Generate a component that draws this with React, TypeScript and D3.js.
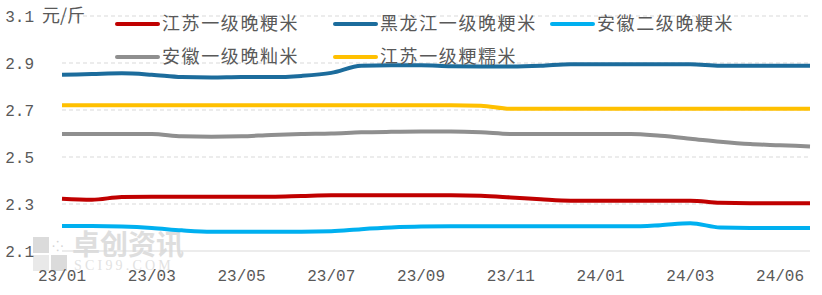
import React from "react";
import * as d3 from "d3";

const categories = [
  "23/01/06", "23/01/20", "23/02/10", "23/03/03", "23/03/24", "23/04/14",
  "23/05/05", "23/05/26", "23/06/16", "23/07/07", "23/07/28", "23/08/18",
  "23/09/08", "23/09/29", "23/10/20", "23/11/10", "23/12/01", "23/12/22",
  "24/01/12", "24/02/02", "24/02/23", "24/03/15", "24/04/12", "24/05/17",
  "24/06/07", "24/06/28",
];

const jiangsuLate = [2.322, 2.318, 2.33, 2.331, 2.331, 2.331, 2.331, 2.331, 2.334, 2.337, 2.337, 2.337, 2.337, 2.337, 2.335, 2.328, 2.32, 2.314, 2.314, 2.314, 2.314, 2.314, 2.305, 2.303, 2.303, 2.303];
const heilongjiang = [2.85, 2.853, 2.856, 2.85, 2.84, 2.838, 2.84, 2.84, 2.845, 2.858, 2.888, 2.89, 2.89, 2.886, 2.885, 2.885, 2.888, 2.895, 2.895, 2.895, 2.895, 2.895, 2.888, 2.888, 2.888, 2.888];
const anhuiSecond = [2.206, 2.206, 2.204, 2.198, 2.188, 2.182, 2.182, 2.182, 2.182, 2.184, 2.193, 2.2, 2.204, 2.205, 2.205, 2.205, 2.205, 2.205, 2.205, 2.205, 2.21, 2.218, 2.2, 2.198, 2.198, 2.198];
const anhuiIndica = [2.598, 2.598, 2.598, 2.598, 2.588, 2.586, 2.588, 2.594, 2.598, 2.6, 2.605, 2.607, 2.608, 2.608, 2.605, 2.598, 2.598, 2.598, 2.598, 2.598, 2.59, 2.578, 2.565, 2.555, 2.55, 2.545];
const jiangsuGlutinous = [2.72, 2.72, 2.72, 2.72, 2.72, 2.72, 2.72, 2.72, 2.72, 2.72, 2.72, 2.72, 2.72, 2.72, 2.718, 2.705, 2.705, 2.705, 2.705, 2.705, 2.705, 2.705, 2.705, 2.705, 2.705, 2.705];

const seriesNames = ["江苏一级晚粳米", "黑龙江一级晚粳米", "安徽二级晚粳米", "安徽一级晚籼米", "江苏一级粳糯米"];
const seriesColors = ["#C00000", "#1C6C9C", "#00B0F0", "#8F8F8F", "#FFC000"];
const yTicks = [2.1, 2.3, 2.5, 2.7, 2.9, 3.1];
const unitLabel = "元/斤";

const W = 822;
const H = 295;

export default function App() {
  const seriesData = [jiangsuLate, heilongjiang, anhuiSecond, anhuiIndica, jiangsuGlutinous];
  const x = d3.scalePoint<string>().domain(categories).range([62, 810]);
  const y = d3.scaleLinear().domain([2.1, 3.1]).range([251, 16]);
  const line = d3
    .line<number>()
    .x((_, i) => x(categories[i]) as number)
    .y((d) => y(d))
    .curve(d3.curveMonotoneX);

  const legendPos = [
    { lx: 117, ly: 24 },
    { lx: 335, ly: 24 },
    { lx: 552, ly: 24 },
    { lx: 117, ly: 57 },
    { lx: 335, ly: 57 },
  ];

  const textColor = "#595959";
  const monoFont = "'Liberation Mono', 'DejaVu Sans Mono', monospace";
  const cjkFont = "'Noto Sans CJK SC', sans-serif";

  return (
    <svg
      width={W}
      height={H}
      style={{ position: "absolute", left: 0, top: 0, background: "#fff" }}
    >
      <rect x={0} y={0} width={W} height={H} fill="#fff" />
      {/* watermark */}
      <g opacity={0.45}>
        <rect x={33} y={237} width={16} height={16} fill="#b0b0b0" />
        <rect x={51} y={255} width={16} height={16} fill="#b0b0b0" />
        <rect x={33} y={255} width={16} height={16} fill="#d0d0d0" />
        <text x={52} y={251} fontSize={14} fill="#a0a0a0" fontFamily={cjkFont}>⁘</text>
        <text x={72} y={255} fontSize={28} fill="#b8b8b8" fontFamily={cjkFont} fontWeight={700}>
          卓创资讯
        </text>
        <text x={74} y={270} fontSize={14} fill="#c0c0c0" fontFamily="'Liberation Serif', serif" letterSpacing={3.2}>
          SCI99.COM
        </text>
      </g>
      {/* gridlines */}
      {yTicks.map((t) => (
        <line
          key={t}
          x1={62}
          x2={810}
          y1={y(t)}
          y2={y(t)}
          stroke="#D9D9D9"
          strokeWidth={1}
          strokeDasharray={t === 2.1 ? undefined : "4,3"}
        />
      ))}
      {/* y labels */}
      {yTicks.map((t) => (
        <text
          key={"l" + t}
          x={34}
          y={y(t)}
          dy="0.35em"
          textAnchor="end"
          fontSize={16}
          fill={textColor}
          fontFamily={monoFont}
        >
          {t.toFixed(1)}
        </text>
      ))}
      <text x={42} y={y(3.1)} dy="0.35em" fontSize={18} fill={textColor} fontFamily={cjkFont}>
        {unitLabel}
      </text>
      {/* x labels */}
      {categories.map((c, i) =>
        i % 3 === 0 ? (
          <text
            key={c}
            x={x(c) as number}
            y={281}
            textAnchor="middle"
            fontSize={16}
            fill={textColor}
            fontFamily={monoFont}
          >
            {c.slice(0, 5)}
          </text>
        ) : null
      )}
      {/* lines */}
      {seriesData.map((s, k) => (
        <path
          key={seriesNames[k]}
          d={line(s) as string}
          fill="none"
          stroke={seriesColors[k]}
          strokeWidth={4}
          strokeLinejoin="round"
        />
      ))}
      {/* legend */}
      {seriesNames.map((n, k) => (
        <g key={"lg" + n}>
          <line
            x1={legendPos[k].lx}
            x2={legendPos[k].lx + 41}
            y1={legendPos[k].ly}
            y2={legendPos[k].ly}
            stroke={seriesColors[k]}
            strokeWidth={4}
            strokeLinecap="round"
          />
          <text
            x={legendPos[k].lx + 45}
            y={legendPos[k].ly}
            dy="0.36em"
            fontSize={18}
            letterSpacing={1.6}
            fill={textColor}
            fontFamily={cjkFont}
          >
            {n}
          </text>
        </g>
      ))}
    </svg>
  );
}
